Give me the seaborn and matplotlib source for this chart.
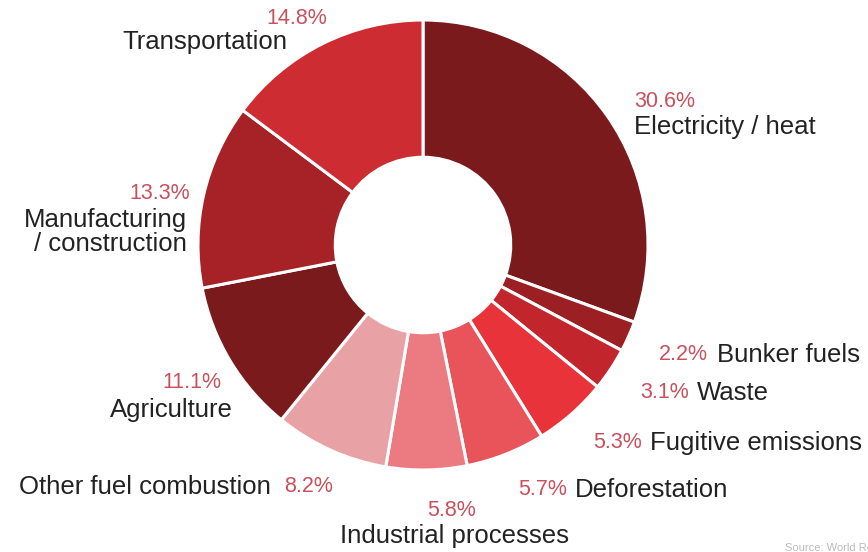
import matplotlib
matplotlib.use('Agg')
import matplotlib.pyplot as plt
import seaborn as sns

sns.set_style('white')
plt.rcParams['font.family'] = ['Liberation Sans', 'DejaVu Sans']

# data (clockwise from 12 o'clock)
sectors = ['Electricity / heat', 'Bunker fuels', 'Waste', 'Fugitive emissions',
           'Deforestation', 'Industrial processes', 'Other fuel combustion',
           'Agriculture', 'Manufacturing\n/ construction', 'Transportation']
shares = [30.6, 2.2, 3.1, 5.3, 5.7, 5.8, 8.2, 11.1, 13.3, 14.8]
colors = ['#7a1a1d', '#9c1f23', '#c2262c', '#e8333a', '#e9535a',
          '#ec7b81', '#e8a2a6', '#7a1a1d', '#a72226', '#cc2c32']

PCT_COL = '#c9505c'
TXT_COL = '#222222'

# figure is laid out in pixel units, pie centre at (423, 245), radius 225 px
W, H = 868, 552
CX, CY, R = 423, 245, 225

fig = plt.figure(figsize=(W / 100, H / 100), dpi=100)
ax = fig.add_axes([0, 0, 1, 1])

ax.pie(shares, colors=colors, startangle=90, counterclock=False, radius=1.0,
       wedgeprops=dict(width=0.61, edgecolor='white', linewidth=2.2))

ax.set_xlim(-CX / R, (W - CX) / R)
ax.set_ylim(-(H - CY) / R, CY / R)
ax.set_aspect('equal', adjustable='box')
ax.axis('off')


def px(x, y):
    return (x - CX) / R, (CY - y) / R


# label layout: (pct x, pct y, pct ha, name x, name y, name ha) in pixels
layout = {
    'Electricity / heat':            (634, 101, 'left', 634, 127, 'left'),
    'Bunker fuels':                  (659, 355, 'left', 717, 355, 'left'),
    'Waste':                         (640, 393, 'left', 697, 393, 'left'),
    'Fugitive emissions':            (593, 443, 'left', 650, 443, 'left'),
    'Deforestation':                 (518, 490, 'left', 575, 490, 'left'),
    'Industrial processes':          (452, 510, 'center', 455, 536, 'center'),
    'Other fuel combustion':         (284, 487, 'left', 271, 487, 'right'),
    'Agriculture':                   (221, 382, 'right', 233, 410, 'right'),
    'Manufacturing\n/ construction': (190, 193, 'right', 187, 232, 'right'),
    'Transportation':                (327, 18, 'right', 287, 42, 'right'),
}

for name, val in zip(sectors, shares):
    pxx, pyy, pha, nx, ny, nha = layout[name]
    ax.text(*px(pxx, pyy), f'{val:.1f}%', color=PCT_COL, fontsize=15.5,
            ha=pha, va='center')
    ax.text(*px(nx, ny), name, color=TXT_COL, fontsize=18.5, ha=nha,
            va='center', linespacing=1.05)

# source note, cut off at the right edge as in the original
ax.text(*px(785, 548), 'Source: World Resources Institute', color='#bbbbbb',
        fontsize=8, ha='left', va='center')

plt.savefig('out.png', dpi=100)
plt.close()
